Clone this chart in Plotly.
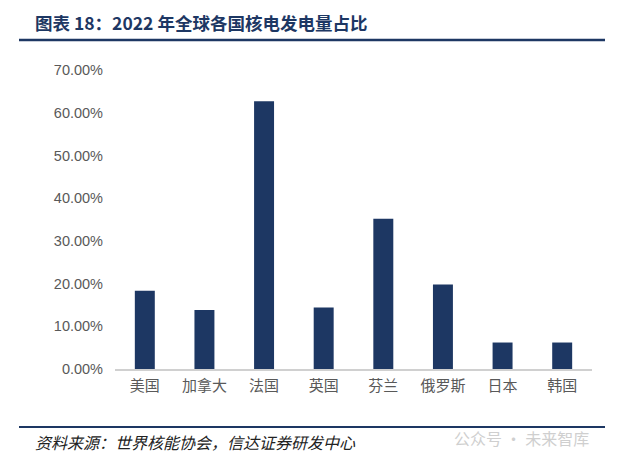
import plotly.graph_objects as go

categories = ["美国", "加拿大", "法国", "英国", "芬兰", "俄罗斯", "日本", "韩国"]
shares = [18.3, 13.8, 62.7, 14.4, 35.2, 19.8, 6.2, 6.2]
y_ticks = [0, 10, 20, 30, 40, 50, 60, 70]
y_tick_labels = [f"{v:.2f}%" for v in y_ticks]

title_text = "图表 18：2022 年全球各国核电发电量占比"
source_text = "资料来源：世界核能协会，信达证券研发中心"
watermark_text = "公众号 · 未来智库"

navy = "#1d3763"
W, H = 640, 462

fig = go.Figure()
fig.add_trace(go.Bar(
    x=categories, y=shares,
    marker=dict(color=navy, line=dict(width=0)),
    hoverinfo="skip",
))

fig.update_layout(
    width=W, height=H,
    margin=dict(l=0, r=0, t=0, b=0),
    paper_bgcolor="white", plot_bgcolor="white",
    showlegend=False,
    bargap=0.665,
    font=dict(family="Noto Sans CJK SC", color="#595959"),
    xaxis=dict(
        domain=[115 / W, 592 / W],
        automargin=False,
        showgrid=False, zeroline=False,
        showline=True, linecolor="#d0d0d0", linewidth=1.5,
        ticks="", tickfont=dict(size=15, color="#595959", family="Noto Sans CJK SC"),
        ticklabelstandoff=2,
    ),
    yaxis=dict(
        domain=[1 - 369 / H, 1 - 70 / H],
        automargin=False,
        range=[0, 70],
        tickvals=y_ticks, ticktext=y_tick_labels,
        showgrid=False, zeroline=False, showline=False,
        ticks="", tickfont=dict(size=14.5, color="#595959", family="Liberation Sans Narrow, Liberation Sans"),
        ticklabelstandoff=11,
    ),
)

shapes = [
    dict(type="line", xref="paper", yref="paper", x0=19 / W, x1=605 / W,
         y0=1 - 40 / H, y1=1 - 40 / H, line=dict(color=navy, width=2.5)),
    dict(type="line", xref="paper", yref="paper", x0=19 / W, x1=605 / W,
         y0=1 - 427 / H, y1=1 - 427 / H, line=dict(color=navy, width=2)),
]
fig.update_layout(shapes=shapes)

fig.add_annotation(xref="paper", yref="paper", x=33 / W, y=1 - 22 / H,
                   xanchor="left", yanchor="middle", showarrow=False,
                   text="<b>" + title_text + "</b>",
                   font=dict(size=17.5, color=navy, family="Noto Sans CJK SC"))
fig.add_annotation(xref="paper", yref="paper", x=33 / W, y=1 - 442 / H,
                   xanchor="left", yanchor="middle", showarrow=False,
                   text="<i>" + source_text + "</i>",
                   font=dict(size=16, color="#222222", family="Noto Sans CJK SC"))
fig.add_annotation(xref="paper", yref="paper", x=452 / W, y=1 - 438 / H,
                   xanchor="left", yanchor="middle", showarrow=False,
                   text=watermark_text,
                   font=dict(size=16, color="#cfcfcf", family="Noto Sans CJK SC"))

fig.write_html("out.html", config={"displayModeBar": False},
               post_script="document.body.style.margin='0';")
